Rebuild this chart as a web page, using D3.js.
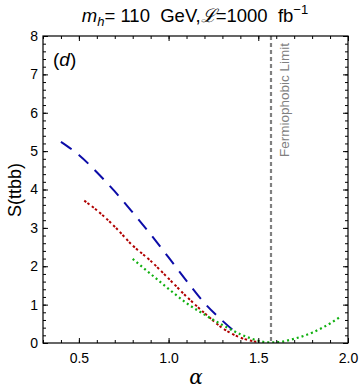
<!DOCTYPE html>
<html>
<head>
<meta charset="utf-8">
<script src="https://cdn.jsdelivr.net/npm/d3@7"></script>
<style>
  body { margin: 0; background: #fff; }
  svg { display: block; font-family: "Liberation Sans", Arial, sans-serif; }
</style>
</head>
<body>
<svg id="chart" width="360" height="390"></svg>
<script>
// Data
const blueAlpha = [0.40, 0.50, 0.60, 0.70, 0.80, 0.90, 1.00, 1.10, 1.20, 1.30, 1.36];
const blueS     = [5.24, 4.90, 4.45, 3.95, 3.40, 2.83, 2.23, 1.62, 1.04, 0.58, 0.33];

const redAlpha = [0.53, 0.60, 0.70, 0.80, 0.90, 1.00, 1.10, 1.20, 1.30, 1.40, 1.50];
const redS     = [3.71, 3.46, 3.03, 2.54, 2.14, 1.68, 1.21, 0.78, 0.39, 0.14, 0.02];

const greenAlpha = [0.80, 0.90, 1.00, 1.10, 1.20, 1.30, 1.40, 1.50, 1.55, 1.60, 1.70, 1.80, 1.90, 1.95];
const greenS     = [2.19, 1.80, 1.41, 1.04, 0.74, 0.47, 0.23, 0.06, 0.02, 0.02, 0.11, 0.27, 0.51, 0.66];

const xTicks = [0.5, 1.0, 1.5, 2.0];
const yTicks = [0, 1, 2, 3, 4, 5, 6, 7, 8];
const fermiophobicAlpha = Math.PI / 2;

const svg = d3.select('#chart');
const margin = { top: 36, right: 12, bottom: 47, left: 43 };
const width = 360 - margin.left - margin.right;
const height = 390 - margin.top - margin.bottom;

const x = d3.scaleLinear().domain([0.3, 2.0]).range([0, width]);
const y = d3.scaleLinear().domain([0, 8]).range([height, 0]);

const g = svg.append('g').attr('transform', `translate(${margin.left},${margin.top})`);

// Curves
const line = d3.line()
    .x(d => x(d[0]))
    .y(d => y(d[1]))
    .curve(d3.curveMonotoneX);

const series = [
    { a: blueAlpha, s: blueS, color: '#0c0ca8', dash: '13,9', w: 2 },
    { a: redAlpha, s: redS, color: '#b00000', dash: '2.5,1.5,2.5,3', w: 2 },
    { a: greenAlpha, s: greenS, color: '#10b010', dash: '2,3', w: 2.2 }
];

g.append('clipPath').attr('id', 'clip')
    .append('rect').attr('width', width).attr('height', height);

series.forEach(sr => {
    g.append('path')
        .datum(sr.a.map((v, i) => [v, sr.s[i]]))
        .attr('clip-path', 'url(#clip)')
        .attr('fill', 'none')
        .attr('stroke', sr.color)
        .attr('stroke-width', sr.w)
        .attr('stroke-dasharray', sr.dash)
        .attr('d', line);
});

// Fermiophobic limit
g.append('line')
    .attr('x1', x(fermiophobicAlpha)).attr('x2', x(fermiophobicAlpha))
    .attr('y1', 0).attr('y2', height)
    .attr('stroke', '#808080')
    .attr('stroke-width', 2.2)
    .attr('stroke-dasharray', '4,3');

g.append('text')
    .attr('transform', `translate(${x(fermiophobicAlpha) + 18},64) rotate(-90)`)
    .attr('fill', '#808080')
    .attr('font-size', 13.5)
    .attr('text-anchor', 'middle')
    .text('Fermiophobic Limit');

// Frame with inward ticks on all sides
function frameAxis(axis, transform) {
    const a = g.append('g').attr('transform', transform).call(axis);
    a.select('.domain').remove();
    return a;
}

const xMinor = d3.range(0.3, 2.0001, 0.1).map(v => +v.toFixed(1));
const yMinor = d3.range(0, 8.0001, 0.2).map(v => +v.toFixed(1));

// bottom
frameAxis(d3.axisBottom(x).tickValues(xMinor).tickSize(-3).tickFormat(''), `translate(0,${height})`);
frameAxis(d3.axisBottom(x).tickValues(xTicks).tickSize(-5).tickPadding(10).tickFormat(d3.format('.1f')), `translate(0,${height})`)
    .selectAll('text').attr('font-size', 14).attr('fill', '#000');
// top
frameAxis(d3.axisTop(x).tickValues(xMinor).tickSize(-3).tickFormat(''), 'translate(0,0)');
frameAxis(d3.axisTop(x).tickValues(xTicks).tickSize(-5).tickFormat(''), 'translate(0,0)');
// left
frameAxis(d3.axisLeft(y).tickValues(yMinor).tickSize(-3).tickFormat(''), 'translate(0,0)');
frameAxis(d3.axisLeft(y).tickValues(yTicks).tickSize(-5).tickPadding(5).tickFormat(d3.format('d')), 'translate(0,0)')
    .selectAll('text').attr('font-size', 14).attr('fill', '#000');
// right
frameAxis(d3.axisRight(y).tickValues(yMinor).tickSize(-3).tickFormat(''), `translate(${width},0)`);
frameAxis(d3.axisRight(y).tickValues(yTicks).tickSize(-5).tickFormat(''), `translate(${width},0)`);

g.selectAll('.tick line').attr('stroke', '#000').attr('stroke-width', 1);

g.append('rect')
    .attr('width', width).attr('height', height)
    .attr('fill', 'none').attr('stroke', '#000').attr('stroke-width', 1.2);

// Panel label
g.append('text')
    .attr('x', 10).attr('y', 30)
    .attr('font-size', 19)
    .html('(<tspan font-style="italic">d</tspan>)');

// Axis labels
svg.append('text')
    .attr('transform', 'translate(21,190) rotate(-90)')
    .attr('text-anchor', 'middle')
    .attr('font-size', 18)
    .text('S(ttbb)');

svg.append('text')
    .attr('x', 196).attr('y', 384)
    .attr('text-anchor', 'middle')
    .attr('font-size', 20)
    .attr('font-style', 'italic')
    .attr('font-family', '"DejaVu Serif", serif')
    .text('α');

// Title
const title = svg.append('text')
    .attr('x', 195).attr('y', 22)
    .attr('text-anchor', 'middle')
    .attr('font-size', 18.5);
title.append('tspan').attr('font-style', 'italic').text('m');
title.append('tspan').attr('font-style', 'italic').attr('font-size', 13).attr('dy', 4).text('h');
title.append('tspan').attr('dy', -4).text('= 110\u00a0\u00a0GeV,');
title.append('tspan').attr('font-family', '"DejaVu Serif", serif').attr('font-style', 'italic').text('ℒ');
title.append('tspan').text('=1000\u00a0\u00a0fb');
title.append('tspan').attr('font-size', 13).attr('dy', -8).text('−1');
</script>
</body>
</html>
